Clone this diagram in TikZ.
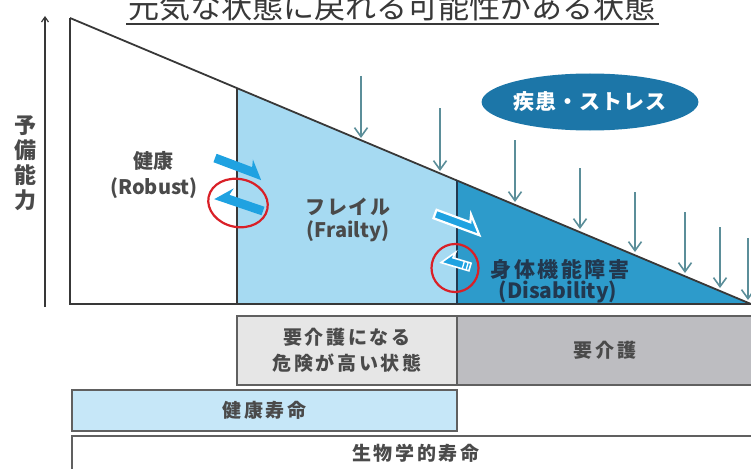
\documentclass[tikz,border=0pt]{standalone}
\usepackage{fontspec}
\setmainfont{Noto Sans CJK JP}
\usetikzlibrary{arrows.meta,shapes.geometric}
\definecolor{outl}{HTML}{383838}
\definecolor{lblue}{HTML}{A6DAF2}
\definecolor{dblue}{HTML}{2D9BCB}
\definecolor{ellc}{HTML}{1C76A8}
\definecolor{teal}{HTML}{5B8E99}
\definecolor{barrow}{HTML}{1FA2E1}
\definecolor{redc}{HTML}{D92027}
\definecolor{boxa}{HTML}{E6E6E6}
\definecolor{boxb}{HTML}{BDBDC1}
\definecolor{boxc}{HTML}{C6E7F8}
\definecolor{txtg}{HTML}{4A4A4A}
\definecolor{navy}{HTML}{22384F}
\begin{document}
\begin{tikzpicture}[x=1pt,y=-1pt,
  outline/.style={draw=outl,line width=1.8pt},
  downarr/.style={draw=teal,line width=1.6pt,-{Straight Barb[length=9pt,width=13pt,line width=1.6pt]}},
  ring/.style={draw=redc,line width=2.2pt,ellipse,inner sep=0pt},
  lbl/.style={text=txtg,font=\bfseries\fontsize{20}{22}\selectfont,inner sep=0pt},
  boxtxt/.style={draw=outl!80,line width=1.5pt,text=txtg,font=\bfseries\fontsize{19}{26}\selectfont\addfontfeature{LetterSpace=14},align=center,inner sep=0pt},
]
\useasboundingbox (0,0) rectangle (751,468);
% regions
\fill[lblue] (237,88) -- (457,180.5) -- (457,304) -- (237,304) -- cycle;
\fill[dblue] (457,180.5) -- (751,304) -- (457,304) -- cycle;
% outline
\draw[outline] (70,18) -- (70,304) -- (751,304);
\draw[outline] (70,18) -- (751,304);
\draw[outline] (237,88) -- (237,304);
\draw[draw=navy,line width=1.8pt] (457,180.5) -- (457,304);
% y axis
\coordinate (ya) at (45,307);
\coordinate (yb) at (45,16);
\draw[draw=outl,line width=1.2pt,-{Straight Barb[length=5pt,width=7pt]}] (ya) -- (yb);
\node[lbl,align=center,font=\bfseries\fontsize{22}{25}\selectfont] (ylab) at (25,163) {予\\備\\能\\力};
% title
\node[text=outl,font=\fontsize{31}{31}\selectfont,inner sep=0pt] (title) at (392,7) {元気な状態に戻れる可能性がある状態};
\coordinate (ul1) at (126,24);
\coordinate (ul2) at (659,24);
\draw[draw=outl,line width=1.5pt] (ul1) -- (ul2);
% ellipse
\node[ellipse,fill=ellc,minimum width=208pt,minimum height=57pt,inner sep=0pt,text=white,font=\bfseries\fontsize{21}{22}\selectfont\addfontfeature{LetterSpace=5}] (stress) at (590,102) {疾患・ストレス};
% down arrows
\foreach \i/\x/\a/\b in {1/361/76/138,2/440/108/171,3/515/140/202,4/580/168/229,5/635/192/252,6/685/212/273,7/720/227/288,8/748/238/300}{
  \coordinate (s\i) at (\x,\a);
  \coordinate (e\i) at (\x,\b);
  \draw[downarr] (s\i) -- (e\i);
}
% texts
\node[lbl] (robj) at (153,161) {健康};
\node[lbl] (robe) at (154,188) {(Robust)};
\node[lbl,font=\bfseries\fontsize{20}{22}\selectfont\addfontfeature{LetterSpace=8}] (frj) at (348,207) {フレイル};
\node[lbl] (fre) at (348,231) {(Frailty)};
\node[lbl,text=navy,font=\bfseries\fontsize{21}{22}\selectfont\addfontfeature{LetterSpace=12}] (disj) at (560,269) {身体機能障害};
\node[lbl,text=navy,font=\bfseries\fontsize{21}{22}\selectfont] (dise) at (558,292) {(Disability)};
% blue arrows pair 1
\begin{scope}[shift={(215,158)},rotate=-20.6]
\fill[barrow] (0,-4.5) -- (38,-4.5) -- (36,-12) -- (51,4.5) -- (0,4.5) -- cycle;
\end{scope}
\begin{scope}[shift={(263,211)},rotate=161.2]
\fill[barrow] (0,4.5) -- (37,4.5) -- (35,12) -- (50,-4.5) -- (0,-4.5) -- cycle;
\end{scope}
\node[ring,minimum width=60pt,minimum height=48pt,rotate=-12] (r1) at (238,203) {};
% blue arrows pair 2
\begin{scope}[shift={(435,214)},rotate=-20.3]
\filldraw[fill=barrow,draw=white,line width=2.2pt,line join=miter] (0,-4.5) -- (36,-4.5) -- (34,-12) -- (49,4.5) -- (0,4.5) -- cycle;
\end{scope}
\begin{scope}[shift={(470,267)},rotate=163.5]
\filldraw[fill=barrow,draw=white,line width=1.6pt] (0,4) -- (19,4) -- (18,10) -- (29,-4) -- (0,-4) -- cycle;
\draw[white,line width=1.3pt] (3,-4) -- (3,4) (7,-4) -- (7,4);
\end{scope}
\node[ring,minimum width=47pt,minimum height=48pt] (r2) at (455,268) {};
% bottom boxes
\node[boxtxt,fill=boxa,minimum width=220pt,minimum height=69pt] (b1) at (347,350.5) {要介護になる\\危険が高い状態};
\node[boxtxt,fill=boxb,minimum width=296pt,minimum height=69pt] (b2) at (605,350.5) {要介護};
\node[boxtxt,fill=boxc,minimum width=385pt,minimum height=41pt] (b3) at (264.5,410.5) {健康寿命};
\node[boxtxt,fill=white,minimum width=681pt,minimum height=40pt,text height=0pt] (b4) at (412.5,456) {};
\node[lbl,font=\bfseries\fontsize{19}{20}\selectfont\addfontfeature{LetterSpace=14}] (b4t) at (416,453) {生物学的寿命};
\end{tikzpicture}
\end{document}
